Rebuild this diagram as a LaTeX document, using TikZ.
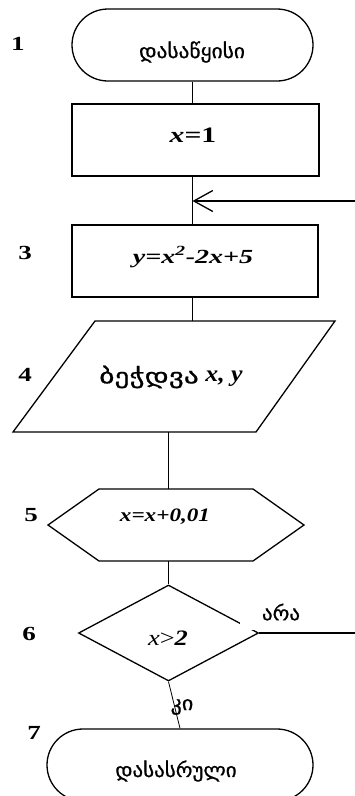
\documentclass[tikz,border=0pt]{standalone}
\usepackage{fontspec}
\setmainfont{Liberation Serif}
\newfontfamily\geo[FakeBold=0.8]{DejaVu Sans}
\usetikzlibrary{arrows.meta,shapes.geometric}
\newcommand{\hstretch}[2]{\scalebox{#1}[1]{#2}}
\begin{document}
\begin{tikzpicture}[x=1pt,y=-1pt,
  shapeline/.style={draw, line width=1.3pt},
  conn/.style={line width=0.8pt},
  loopline/.style={line width=1.2pt},
  numlabel/.style={font=\fontsize{20}{20}\selectfont\bfseries, inner sep=0pt},
  geotext/.style={font=\fontsize{20}{20}\selectfont\geo, inner sep=0pt},
  formula/.style={font=\fontsize{20}{20}\selectfont\bfseries\itshape, inner sep=0pt},
  ghost/.style={inner sep=0pt, minimum width=1pt},
]
\useasboundingbox (0,0) rectangle (355,796);
\clip (0,0) rectangle (355,796);

% shapes
\node[shapeline, rounded corners=36pt, minimum width=241pt, minimum height=72pt, inner sep=0pt] (start) at (192.5,45) {};
\node[shapeline, minimum width=247pt, minimum height=72pt, inner sep=0pt] (b2) at (195.5,140) {};
\node[shapeline, minimum width=246pt, minimum height=72pt, inner sep=0pt] (b3) at (195,261) {};
\draw[shapeline] (95,321) -- (335,321) -- (256,432) -- (13,432) -- cycle;
\node[ghost, minimum height=111pt] (p4) at (174.75,376.5) {};
\draw[shapeline] (48,525) -- (99,489) -- (253,489) -- (304,525) -- (253,561) -- (99,561) -- cycle;
\node[ghost, minimum height=72pt] (hex) at (176,525) {};
\node[diamond, shapeline, minimum width=180pt, minimum height=96pt, inner sep=0pt] (d6) at (168.5,633) {};
\node[shapeline, rounded corners=36pt, minimum width=266pt, minimum height=72pt, inner sep=0pt] (end) at (180,765) {};

% gap in diamond edge under the label
\fill[white] (240,600) rectangle (256,630);

% texts
\node[geotext] (t1) at (192,52) {\hstretch{1.07}{დასაწყისი}};
\node[inner sep=0pt, font=\fontsize{22}{22}\selectfont\bfseries] (t2) at (193,135) {\hstretch{1.35}{\itshape x\upshape =1}};
\node[formula] (t3) at (193,257) {\hstretch{1.4}{y=x\textsuperscript{2}-2x+5}};
\node[inner sep=0pt] (t4a) at (149,377) {\geo\fontsize{21}{21}\selectfont\hstretch{1.4}{ბეჭდვა}};
\node[inner sep=0pt, anchor=base] (t4b) at (224,381) {\fontsize{23}{23}\selectfont\bfseries\itshape\hstretch{1.12}{x, y}};
\node[formula] (t5) at (165,517) {\fontsize{19}{19}\selectfont\hstretch{1.22}{x=x+0,01}};
\node[inner sep=0pt, font=\fontsize{22}{22}\selectfont] (t6) at (168,638) {\hstretch{1.2}{\itshape x\upshape >\bfseries\itshape 2}};
\node[geotext] (t7) at (176,771) {\hstretch{1.05}{დასასრული}};
\node[geotext] (no) at (281,612) {\hstretch{1.05}{არა}};
\node[geotext] (yes) at (182,707) {\hstretch{1.1}{კი}};

% numbers
\node[numlabel] (n1) at (18,44) {\hstretch{1.35}{1}};
\node[numlabel] (n3) at (25,253) {\hstretch{1.35}{3}};
\node[numlabel] (n4) at (25,375) {\hstretch{1.35}{4}};
\node[numlabel] (n5) at (31,515) {\hstretch{1.35}{5}};
\node[numlabel] (n6) at (29,634) {\hstretch{1.35}{6}};
\node[numlabel] (n7) at (34,733) {\hstretch{1.35}{7}};

% connectors
\coordinate (loopin) at (355,201);
\coordinate (loopout) at (355,633);
\draw[conn] (start.south) -- (start.south |- b2.north);
\draw[conn] (b2.south -| start.south) -- (b3.north -| start.south);
\draw[loopline, -{Straight Barb[length=19pt,width=21pt,line width=1.3pt]}] (loopin) -- (loopin -| start.south);
\draw[conn] (b3.south -| start.south) -- (p4.north -| start.south);
\draw[conn] (p4.south -| d6.north) -- (hex.north -| d6.north);
\draw[conn] (hex.south -| d6.north) -- (d6.north);
\draw[loopline] (d6.east) -- (loopout);
\draw[conn] (d6.south) -- (end.north);
\end{tikzpicture}
\end{document}
